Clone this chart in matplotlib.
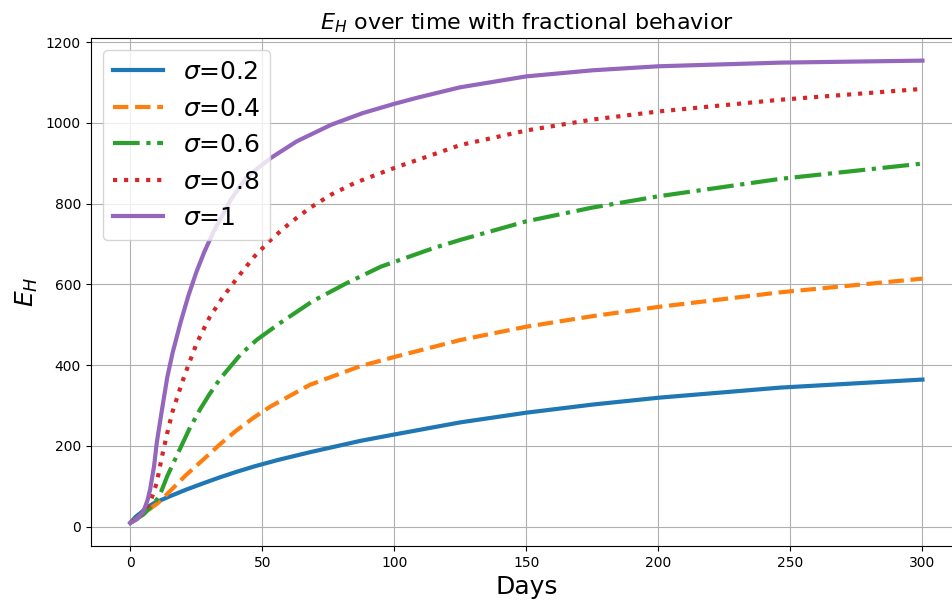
import matplotlib
matplotlib.use("Agg")
import matplotlib.pyplot as plt

# E_H curves read per fractional order sigma
days_02 = [0, 2, 3.6, 6, 9, 15, 21, 28, 34, 40, 47, 56, 68, 87, 100, 125, 150, 175, 200, 246, 300]
eh_02 = [9, 24, 32, 46, 58, 75, 91, 108, 122, 135, 149, 165, 184, 212, 228, 258, 282, 302, 319, 344, 364]

days_04 = [0, 5, 10.6, 16, 21, 28, 34, 40, 47, 53, 68, 87, 100, 125, 150, 175, 200, 246, 300]
eh_04 = [9, 32, 59, 94, 127, 168, 204, 237, 271, 297, 351, 397, 420, 462, 495, 521, 544, 580, 614]

days_06 = [0, 5, 8, 11, 14, 19, 22.6, 26.4, 30, 34, 38, 42, 48, 56.7, 69, 82, 95, 107.6, 115, 125, 150, 175, 200, 246, 300]
eh_06 = [9, 30, 50, 75, 125, 195, 245, 290, 328, 366, 397, 428, 463, 504, 558, 603, 644, 673, 690, 710, 756, 790, 818, 861, 899]

days_08 = [0, 5, 7.5, 10, 12, 14, 16, 19.5, 22, 25.2, 30, 35, 41, 47, 53.6, 60.5, 68, 76, 85, 95, 102, 111, 125, 150, 175, 200, 246, 300]
eh_08 = [9, 35, 59, 108, 174, 232, 285, 355, 400, 455, 518, 568, 620, 669, 713, 752, 789, 822, 851, 876, 893, 913, 945, 981, 1008, 1028, 1057, 1084]

days_1 = [0, 2.5, 5, 6.5, 7.5, 9, 10, 12, 14, 16, 19, 22, 25, 28, 31.5, 38, 44, 53, 63, 76, 88, 100, 108, 118, 125, 150, 175, 200, 246, 300]
eh_1 = [9, 18, 38, 65, 92, 150, 207, 290, 370, 430, 505, 572, 630, 680, 730, 809, 865, 912, 954, 995, 1024, 1047, 1061, 1077, 1088, 1115, 1130, 1140, 1149, 1154]

labels = [r'$\sigma$=0.2', r'$\sigma$=0.4', r'$\sigma$=0.6', r'$\sigma$=0.8', r'$\sigma$=1']
styles = ['-', '--', '-.', ':', '-']
series = [(days_02, eh_02), (days_04, eh_04), (days_06, eh_06),
          (days_08, eh_08), (days_1, eh_1)]

fig = plt.figure(figsize=(9.53, 6.07), dpi=100)
ax = fig.add_axes([0.0952, 0.1005, 0.9143, 0.8377])

for (xs, ys), lab, ls in zip(series, labels, styles):
    ax.plot(xs, ys, ls, lw=3, label=lab)

ax.set_title('$E_H$ over time with fractional behavior', fontsize=16)
ax.set_xlabel('Days', fontsize=18)
ax.set_ylabel('$E_H$', fontsize=18)
ax.tick_params(labelsize=10)
ax.grid(True)
ax.legend(loc='upper left', fontsize=18)

fig.savefig('out.png', dpi=100)
